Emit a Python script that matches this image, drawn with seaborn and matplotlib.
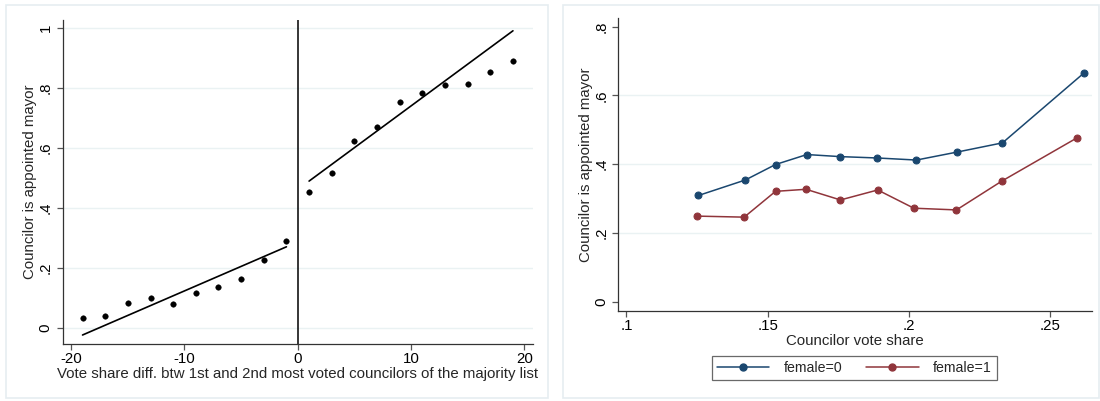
import numpy as np
import pandas as pd
import matplotlib
matplotlib.use("Agg")
import matplotlib.pyplot as plt
import seaborn as sns
from matplotlib.patches import Rectangle
from matplotlib.lines import Line2D

# left panel: binned means around the cutoff
bin_x = [-19, -17, -15, -13, -11, -9, -7, -5, -3, -1,
         1, 3, 5, 7, 9, 11, 13, 15, 17, 19]
bin_y = [0.033, 0.041, 0.084, 0.099, 0.079, 0.117, 0.137, 0.163, 0.226, 0.290,
         0.454, 0.518, 0.625, 0.670, 0.754, 0.784, 0.810, 0.815, 0.853, 0.889]
fit_left_x = [-19, -1]
fit_left_y = [-0.023, 0.271]
fit_right_x = [1, 19]
fit_right_y = [0.490, 0.991]

# right panel: by gender
share_m = [0.1255, 0.1421, 0.1528, 0.1639, 0.1757, 0.1889, 0.2027, 0.2170, 0.2332, 0.2619]
mayor_m = [0.309, 0.354, 0.399, 0.428, 0.422, 0.418, 0.412, 0.435, 0.462, 0.664]
share_f = [0.1251, 0.1417, 0.1528, 0.1636, 0.1758, 0.1890, 0.2018, 0.2169, 0.2330, 0.2597]
mayor_f = [0.249, 0.246, 0.321, 0.327, 0.296, 0.325, 0.272, 0.267, 0.351, 0.477]

left_yticks = [0, 0.2, 0.4, 0.6, 0.8, 1]
left_ylabels = ["0", ".2", ".4", ".6", ".8", "1"]
left_xticks = [-20, -10, 0, 10, 20]
right_yticks = [0, 0.2, 0.4, 0.6, 0.8]
right_ylabels = ["0", ".2", ".4", ".6", ".8"]
right_xticks = [0.1, 0.15, 0.2, 0.25]
right_xlabels = [".1", ".15", ".2", ".25"]

sns.set_style("white")
plt.rcParams["font.family"] = ["Liberation Sans", "DejaVu Sans"]
FS = 10.8
GRID = "#eaf2f3"
NAVY = "#1a476f"
MAROON = "#90353b"
AXC = "#333333"

W, H = 1100, 401
fig = plt.figure(figsize=(11, 4.01), dpi=100)

# panel frames (pixel coords, top-left origin)
for x0, x1 in [(6, 548), (563, 1099)]:
    fig.patches.append(Rectangle((x0 / W, (H - 398) / H), (x1 - x0) / W, (398 - 5) / H,
                                 transform=fig.transFigure, fill=False,
                                 edgecolor="#e6edf1", linewidth=1.2))


def add_px_axes(x0, x1, top, bottom):
    ax = fig.add_axes([x0 / W, (H - bottom) / H, (x1 - x0) / W, (bottom - top) / H])
    for s in ["top", "right"]:
        ax.spines[s].set_visible(False)
    for s in ["left", "bottom"]:
        ax.spines[s].set_color(AXC)
        ax.spines[s].set_linewidth(0.9)
    ax.tick_params(direction="out", length=4.5, width=0.9, color="#555555",
                   labelsize=FS, labelcolor="black", left=True, bottom=True, pad=2.5)
    ax.tick_params(axis="x", pad=1.5)
    ax.set_axisbelow(True)
    return ax


# left panel
ax1 = add_px_axes(62.5, 533, 20, 344)
ax1.set_xlim(-20.77, 20.77)
ax1.set_ylim(-0.053, 1.027)
for t in left_yticks:
    ax1.axhline(t, color=GRID, lw=1, zorder=0)
ax1.axvline(0, color="black", lw=1.1)
sns.lineplot(x=fit_left_x, y=fit_left_y, ax=ax1, color="black", lw=1.2)
sns.lineplot(x=fit_right_x, y=fit_right_y, ax=ax1, color="black", lw=1.2)
sns.scatterplot(x=bin_x, y=bin_y, ax=ax1, color="black", s=16, edgecolor="black", zorder=3)
ax1.set_yticks(left_yticks)
ax1.set_yticklabels(left_ylabels, rotation=90, va="center")
ax1.set_xticks(left_xticks)
ax1.set_xticklabels([str(t) for t in left_xticks])
ax1.set_ylabel("Councilor is appointed mayor", fontsize=FS, labelpad=1)
ax1.set_xlabel("Vote share diff. btw 1st and 2nd most voted councilors of the majority list",
               fontsize=FS, labelpad=0.5)

# right panel
ax2 = add_px_axes(618, 1091.7, 18, 310.7)
ax2.set_xlim(0.097, 0.2648)
ax2.set_ylim(-0.026, 0.825)
for t in right_yticks[1:-1]:
    ax2.axhline(t, color=GRID, lw=1, zorder=0)
sns.lineplot(x=share_m, y=mayor_m, ax=ax2, color=NAVY, lw=1.1, marker="o",
             markersize=5, markeredgecolor=NAVY)
sns.lineplot(x=share_f, y=mayor_f, ax=ax2, color=MAROON, lw=1.1, marker="o",
             markersize=5, markeredgecolor=MAROON)
ax2.set_yticks(right_yticks)
ax2.set_yticklabels(right_ylabels, rotation=90, va="center")
ax2.set_xticks(right_xticks)
ax2.set_xticklabels(right_xlabels)
ax2.set_ylabel("Councilor is appointed mayor", fontsize=FS, labelpad=1)
ax2.set_xlabel("Councilor vote share", fontsize=FS, labelpad=1)

handles = [Line2D([], [], color=NAVY, lw=1.1, marker="o", markersize=5),
           Line2D([], [], color=MAROON, lw=1.1, marker="o", markersize=5)]
leg = fig.legend(handles, ["female=0", "female=1"], ncol=2, loc="upper center",
                 bbox_to_anchor=(854.3 / W, (H - 356) / H), frameon=True, fancybox=False,
                 fontsize=10.2, handlelength=3.7, handletextpad=1.0, columnspacing=1.7,
                 borderpad=0.35, borderaxespad=0, edgecolor="#444444")
leg.get_frame().set_linewidth(0.9)

fig.savefig("out.png", dpi=100)
